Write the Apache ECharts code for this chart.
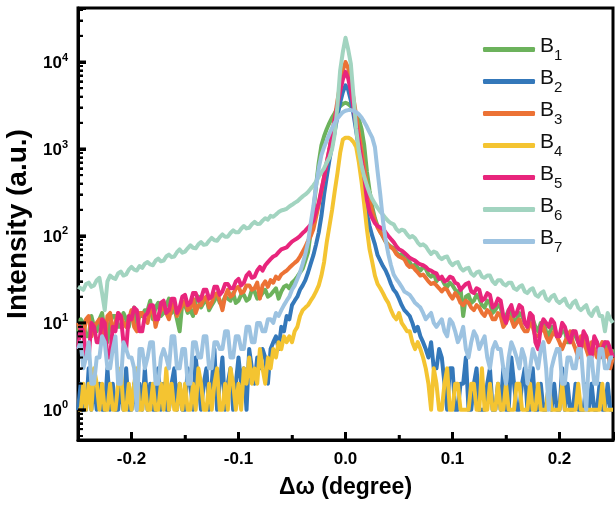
<!DOCTYPE html>
<html><head><meta charset="utf-8">
<script src="https://cdn.jsdelivr.net/npm/echarts@6/dist/echarts.min.js"></script>
<style>html,body{margin:0;padding:0;background:#fff}#c{width:615px;height:505px}</style>
</head><body><div id="c"></div>
<script>
// shared x grid (degree)
const xs = [
-0.25,-0.2475,-0.245,-0.2425,-0.24,-0.2375,-0.235,-0.2325,
-0.23,-0.2275,-0.225,-0.2225,-0.22,-0.2175,-0.215,-0.2125,
-0.21,-0.2075,-0.205,-0.2025,-0.2,-0.1975,-0.195,-0.1925,
-0.19,-0.1875,-0.185,-0.1825,-0.18,-0.1775,-0.175,-0.1725,
-0.17,-0.1675,-0.165,-0.1625,-0.16,-0.1575,-0.155,-0.1525,
-0.15,-0.1475,-0.145,-0.1425,-0.14,-0.1375,-0.135,-0.1325,
-0.13,-0.1275,-0.125,-0.1225,-0.12,-0.1175,-0.115,-0.1125,
-0.11,-0.1075,-0.105,-0.1025,-0.1,-0.0975,-0.095,-0.0925,
-0.09,-0.0875,-0.085,-0.0825,-0.08,-0.0775,-0.075,-0.0725,
-0.07,-0.0675,-0.065,-0.0625,-0.06,-0.0575,-0.055,-0.0525,
-0.05,-0.0475,-0.045,-0.0425,-0.04,-0.0375,-0.035,-0.0325,
-0.03,-0.0275,-0.025,-0.0225,-0.02,-0.0175,-0.015,-0.0125,-0.01,-0.0075,-0.005,-0.0025,0,0.0025,0.005,0.0075,0.01,0.0125,0.015,0.0175,0.02,0.0225,0.025,0.0275,0.03,
0.0325,0.035,0.0375,0.04,0.0425,0.045,0.0475,0.05,
0.0525,0.055,0.0575,0.06,0.0625,0.065,0.0675,0.07,
0.0725,0.075,0.0775,0.08,0.0825,0.085,0.0875,0.09,
0.0925,0.095,0.0975,0.1,0.1025,0.105,0.1075,0.11,
0.1125,0.115,0.1175,0.12,0.1225,0.125,0.1275,0.13,
0.1325,0.135,0.1375,0.14,0.1425,0.145,0.1475,0.15,
0.1525,0.155,0.1575,0.16,0.1625,0.165,0.1675,0.17,
0.1725,0.175,0.1775,0.18,0.1825,0.185,0.1875,0.19,
0.1925,0.195,0.1975,0.2,0.2025,0.205,0.2075,0.21,
0.2125,0.215,0.2175,0.22,0.2225,0.225,0.2275,0.23,
0.2325,0.235,0.2375,0.24,0.2425,0.245,0.2475,0.25
];
const B1 = [
8,11,10,7,7,12,9,8, 11,13,8,6,10,12,12,9, 9,13,11,9,13,15,10,12, 12,14,14,18,11,15,17,12,
13,16,19,13,15,11,8,17, 16,13,14,12,18,20,15,17, 19,14,16,18,21,17,17,20, 19,18,22,17,18,21,21,18,
19,24,23,19,20,22,24,20, 21,23,25,19,23,26,27,25, 29,31,34,38,42,52,65,110,
190,380,700,1100,1400,1700,2000,2300,2600,2900,3100,3300,3400,3300,3100,2800,2600,2200,1700,1100,550,330,215,160,130,
112,98,86,80,75,72,64,60, 62,56,53,50,44,47,43,40, 44,42,36,34,37,30,33,32, 28,26,29,27,24,22,25,12,
20,21,17,18,21,19,16,15, 18,17,13,14,16,15,11,12, 14,13,10,11,13,12,10,9, 12,11,9,8,10,10,8,7,
9,9,7,7,8,8,6,6, 8,7,6,5,7,7,5,5, 6,6,5,4,6,5,4,5
];
const B2 = [
1,2,1,1,3,1,2,1, 2,1,1,3,1,2,1,1, 2,1,3,1,1,2,1,2, 1,3,1,2,1,1,3,1,
2,1,1,2,3,1,2,1, 1,3,2,1,4,2,1,2, 3,1,2,5,1,2,4,1, 2,3,1,2,4,2,3,1,
5,3,2,4,3,5,4,2, 5,6,7,5,9,8,12,11, 16,18,20,24,27,31,38,48,
60,80,110,170,300,480,750,1100,1600,2400,3400,4500,5400,4800,3600,2500,1600,1000,600,330,180,130,100,80,60,
52,45,40,34,28,24,22,19, 16,14,13,12,10,8,9,7, 6,5,4,6,3,3,5,4, 2,1,3,3,1,1,2,2,
4,1,1,2,3,1,1,1, 2,3,1,1,2,1,3,1, 1,4,2,1,1,2,3,1, 1,3,1,1,2,1,1,2,
1,2,1,1,3,1,2,1, 1,2,1,1,1,2,1,2, 1,1,2,1,1,2,1,1
];
const B3 = [
10,8,7,11,12,7,9,10, 11,9,6,12,13,8,10,13, 12,10,9,11,14,9,8,13, 13,11,10,14,15,9,12,14,
16,13,11,15,17,12,14,16, 18,14,15,19,13,16,16,19, 20,15,17,21,22,18,14,20, 24,20,21,25,26,22,23,27,
27,24,25,29,19,27,30,26, 31,29,34,32,36,38,40,43, 46,49,52,58,66,75,88,100,
120,165,230,330,480,700,1000,1500,2300,3600,5500,8000,10000,8500,6000,3800,2400,1500,950,600,380,260,190,150,125,
110,100,86,78,74,70,62,58, 56,54,47,44,45,41,38,35, 36,33,30,28,29,27,25,23, 25,24,21,19,22,20,17,16,
18,17,15,14,16,15,13,12, 14,13,11,11,13,12,9,10, 12,11,9,10,11,9,8,8, 10,9,7,7,8,9,7,6,
7,8,7,6,5,6,7,8, 6,5,4,7,6,5,4,6, 5,4,5,6,4,5,3,4
];
const B4 = [
1,1,2,1,2,1,3,2, 1,2,1,1,2,1,1,2, 3,1,1,2,1,2,3,1, 1,2,1,1,2,1,1,2,
1,3,1,2,1,1,2,1, 2,1,1,2,1,3,2,1, 1,2,1,2,3,1,1,2, 1,3,2,1,2,1,3,2,
4,2,3,2,5,3,2,4, 3,5,4,6,5,7,6,7, 6,8,9,12,14,15,16,18,
20,23,27,35,50,85,130,200,330,530,900,1280,1350,1350,1300,1200,1050,700,420,230,120,70,50,35,28,
25,22,19,17,14,12,11,13, 10,9,8,8,6,5,6,5, 4,3,2,1,3,2,1,1, 2,3,1,1,2,2,1,1,
1,1,2,2,1,1,3,1, 1,2,1,1,2,1,1,2, 1,1,1,2,2,1,1,1, 2,1,1,2,1,1,1,2,
1,1,1,1,2,1,1,1, 1,1,2,1,1,1,1,1, 1,1,1,2,1,1,1,1
];
const B5 = [
5,9,8,4,4,10,9,6, 6,11,10,4,4,9,8,13, 12,6,5,12,11,15,14,8, 8,12,13,16,16,11,11,17,
18,13,14,19,19,13,15,20, 21,16,17,22,22,18,19,24, 24,19,20,26,26,21,23,28, 28,25,25,30,32,27,29,35,
38,33,34,40,44,40,46,50, 54,58,60,65,70,72,74,80, 86,90,94,100,108,115,125,135,
150,190,240,340,470,700,1000,1500,2200,3200,4600,6300,7700,6500,4600,3000,1900,1200,750,480,260,190,160,140,130,
125,120,110,100,92,85,76,70, 68,64,60,56,54,52,49,47, 46,44,41,40,38,37,32,34, 30,31,34,33,29,28,24,26,
28,29,23,22,25,24,18,19, 22,21,15,16,19,18,12,10, 14,16,12,13,16,15,10,9, 13,12,6,5,9,11,10,9,
11,10,7,7,10,9,7,6, 8,8,6,5,8,7,5,4, 7,6,4,5,6,6,5,4
];
const B6 = [
26,25,24,28,29,26,27,31, 33,22,14,30,35,33,32,37, 39,35,36,41,44,41,40,45, 43,48,50,47,46,52,55,51,
52,58,61,57,58,65,70,64, 66,72,78,73,72,80,85,79, 80,88,95,89,88,97,104,98, 98,108,116,110,110,121,130,122,
124,136,145,137,138,150,160,154, 170,166,176,188,196,200,205,218, 228,240,250,268,285,300,320,350,
380,420,480,540,600,700,800,1000,1500,3200,8000,13000,19000,14000,9500,4000,1700,950,650,480,380,310,265,235,210,
190,175,160,148,140,136,120,112, 118,115,104,96,100,94,84,78, 80,76,68,62,66,64,57,54, 57,58,50,46,49,50,43,40,
42,43,37,35,38,39,34,33, 35,35,30,28,31,31,28,27, 29,29,25,24,26,27,23,22, 24,25,21,20,22,23,19,18,
20,21,18,17,18,19,16,15, 17,18,15,14,15,16,13,12, 14,15,12,12,8,13,11,10
];
const B7 = [
5,6,3,4,6,2,2,4, 4,7,6,3,3,5,7,2, 2,6,5,4,4,3,1,5, 5,3,4,6,6,2,2,4,
5,4,3,7,7,3,3,5, 5,2,2,6,6,4,4,7, 7,3,3,6,6,5,5,8, 8,4,4,7,7,5,5,9,
9,6,6,10,10,8,8,11, 11,10,13,12,14,16,18,20, 24,27,32,38,48,62,85,140,
220,380,600,850,1050,1250,1500,1750,2000,2250,2450,2650,2750,2800,2800,2750,2650,2500,2300,2050,1800,1550,1350,1050,550,
300,150,90,62,46,36,32,29, 26,23,22,21,19,17,16,15, 13,11,12,13,10,9,10,11, 8,7,11,10,8,6,7,9,
5,4,6,8,7,5,6,7, 4,3,5,6,5,5,3,2, 4,6,5,4,3,5,4,2, 3,5,4,3,5,6,3,1,
3,4,5,5,2,2,4,4, 3,3,5,5,2,1,4,4, 2,2,5,5,3,3,4,4
];
const seriesNames = ['B1','B2','B3','B4','B5','B6','B7'];
const seriesValues = [B1,B2,B3,B4,B5,B6,B7];
// axis tick positions (axis decoration)
const xMajorTicks = [-0.2,-0.1,0,0.1,0.2];
const xMinorTicks = [-0.15,-0.05,0.05,0.15];
const yMajorTicks = [1,10,100,1000,10000];
const yMinorTicks = [0.5,0.6,0.7,0.8,0.9,2,3,4,5,6,7,8,9,20,30,40,50,60,70,80,90,200,300,400,500,600,700,800,900,2000,3000,4000,5000,6000,7000,8000,9000,20000,30000,40000];

seriesValues.forEach((a, k) => { if (a.length !== xs.length) console.error('length mismatch', seriesNames[k], a.length, xs.length); });

// styles
const colors = ['#6cb25c','#3478ba','#ec7235','#f4c431','#e8257c','#a2d4c0','#9dc3e1'];
const FONT = 'Liberation Sans, Arial, Helvetica, sans-serif';
const Y_MIN = 0.45, Y_MAX = 41800, X_MIN = -0.25, X_MAX = 0.25;

// tick marks drawn through the axes' own scales: [x, y, kind] kind 0=x major,1=x minor,2=y major,3=y minor
const tickData = []
  .concat(xMajorTicks.map(v => [v, Y_MIN, 0]))
  .concat(xMinorTicks.map(v => [v, Y_MIN, 1]))
  .concat(yMajorTicks.map(v => [X_MIN, v, 2]))
  .concat(yMinorTicks.map(v => [X_MIN, v, 3]));
const TICK_LEN = [8, 5, 8, 5];
const TICK_W = [3, 2.5, 3, 2];

const chart = echarts.init(document.getElementById('c'), null, {renderer: 'canvas', width: 615, height: 505});
const lineSeries = seriesNames.map((n, k) => ({
  name: n, type: 'line', showSymbol: false, symbol: 'none',
  data: xs.map((x, i) => [x, seriesValues[k][i]]),
  lineStyle: {color: colors[k], width: 4, join: 'round'},
  itemStyle: {color: colors[k]},
  emphasis: {disabled: true}
}));
const tickSeries = {
  type: 'custom', name: '_ticks', silent: true, z: 20, clip: false,
  encode: {x: 0, y: 1},
  data: tickData,
  renderItem: (params, api) => {
    const kind = api.value(2);
    const p = api.coord([api.value(0), api.value(1)]);
    const L = TICK_LEN[kind];
    const shape = kind < 2
      ? {x1: p[0], y1: p[1], x2: p[0], y2: p[1] - L}
      : {x1: p[0], y1: p[1], x2: p[0] + L, y2: p[1]};
    return {type: 'line', shape: shape, style: {stroke: '#000', lineWidth: TICK_W[kind], lineCap: 'butt'}};
  }
};
chart.setOption({
  animation: false,
  backgroundColor: '#fff',
  grid: {left: 78, right: 2, top: 8, bottom: 65, outerBoundsMode: 'none',
    show: true, borderColor: '#000', borderWidth: 3, backgroundColor: 'transparent'},
  legend: {
    orient: 'vertical', left: 483, top: 36, padding: 0, itemWidth: 52, itemHeight: 5, itemGap: 5,
    icon: 'roundRect',
    data: seriesNames,
    formatter: n => '{b|' + n.charAt(0) + '}{s|' + n.slice(1) + '}',
    textStyle: {
      fontFamily: FONT, color: '#111',
      rich: {
        b: {fontSize: 21, fontFamily: FONT, color: '#111', verticalAlign: 'bottom', padding: [0, 0, 6, 0]},
        s: {fontSize: 15, fontFamily: FONT, color: '#111', verticalAlign: 'bottom'}
      }
    }
  },
  xAxis: {
    type: 'value', min: X_MIN, max: X_MAX,
    name: 'Δω (degree)', nameLocation: 'middle', nameGap: 36,
    nameTextStyle: {fontFamily: FONT, fontSize: 23, fontWeight: 'bold', color: '#000'},
    axisLine: {show: true, onZero: false, lineStyle: {color: '#000', width: 3}},
    axisTick: {show: true, inside: true, length: 8, lineStyle: {width: 3, color: '#000'}},
    minorTick: {show: true, splitNumber: 2, length: 5, lineStyle: {width: 2.5, color: '#000'}},
    axisLabel: {margin: 11, fontFamily: FONT, fontSize: 17, fontWeight: 'bold', color: '#000',
      formatter: v => (Math.abs(v) > 0.24 ? '' : v.toFixed(1))},
    splitLine: {show: false}
  },
  yAxis: {
    type: 'log', logBase: 10, min: Y_MIN, max: Y_MAX,
    name: 'Intensity (a.u.)', nameLocation: 'middle', nameGap: 37,
    nameTextStyle: {fontFamily: FONT, fontSize: 28, fontWeight: 'bold', color: '#000'},
    axisLine: {show: true, onZero: false, lineStyle: {color: '#000', width: 3}},
    axisTick: {show: true, inside: true, length: 8, lineStyle: {width: 3, color: '#000'}},
    minorTick: {show: true, splitNumber: 9, length: 5, lineStyle: {width: 2, color: '#000'}},
    axisLabel: {margin: 10, fontFamily: FONT, color: '#000',
      formatter: v => {
        const e = Math.log10(v); const r = Math.round(e);
        if (Math.abs(e - r) > 0.01) return '';
        return '{b|10}{s|' + r + '}';
      },
      rich: {
        b: {fontSize: 17, fontWeight: 'bold', fontFamily: FONT, color: '#000', verticalAlign: 'bottom'},
        s: {fontSize: 11, fontWeight: 'bold', fontFamily: FONT, color: '#000', verticalAlign: 'bottom', padding: [0, 0, 9, 0]}
      }
    },
    splitLine: {show: false}
  },
  series: lineSeries.concat([tickSeries])
});
</script></body></html>
